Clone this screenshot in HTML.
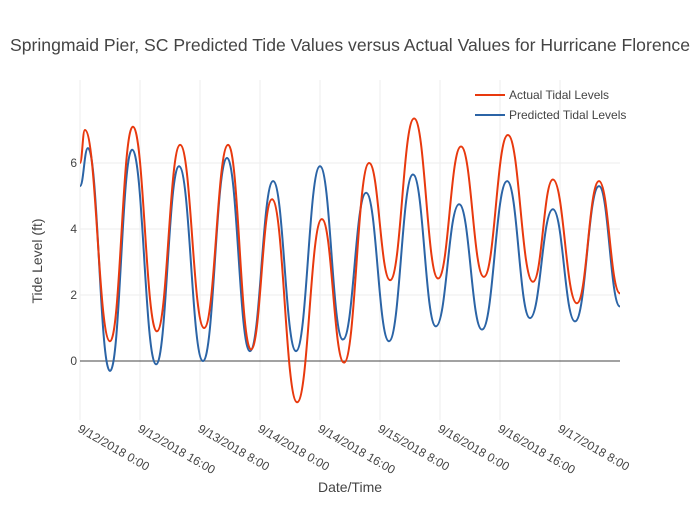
<!DOCTYPE html>
<html><head><meta charset="utf-8"><style>
body{margin:0;background:#fff;}
svg text{font-family:"Liberation Sans","DejaVu Sans",sans-serif;fill:#444;}
</style></head><body>
<svg width="700" height="500" id="chart">
<text x="350" y="51" text-anchor="middle" font-size="17.6">Springmaid Pier, SC Predicted Tide Values versus Actual Values for Hurricane Florence</text>
<g id="grid"></g>
<g id="axes"></g>
<g id="series"></g>
<text x="350" y="492" text-anchor="middle" font-size="14">Date/Time</text>
<text transform="translate(42,261) rotate(-90)" text-anchor="middle" font-size="14">Tide Level (ft)</text>
<g>
<g><line x1="475" y1="95" x2="505" y2="95" stroke="#e8390e" stroke-width="2"/><text x="509" y="99" font-size="12">Actual Tidal Levels</text></g>
<g><line x1="475" y1="115" x2="505" y2="115" stroke="#2b64a6" stroke-width="2"/><text x="509" y="119" font-size="12">Predicted Tidal Levels</text></g>
</g>
</svg>
<script>
const xTickLabels=["9/12/2018 0:00","9/12/2018 16:00","9/13/2018 8:00","9/14/2018 0:00","9/14/2018 16:00","9/15/2018 8:00","9/16/2018 0:00","9/16/2018 16:00","9/17/2018 8:00"];
const xTickHours=[0,16,32,48,64,80,96,112,128];
const yTicks=[0,2,4,6];
const predHours=[0,2.1,8.0,13.9,20.3,26.4,32.8,39.2,45.3,51.5,57.6,64.0,70.1,76.3,82.4,88.8,94.9,101.1,107.2,113.9,120.0,126.1,132.0,138.4,144];
const predValues=[5.3,6.45,-0.3,6.4,-0.1,5.9,0,6.15,0.3,5.45,0.3,5.9,0.65,5.1,0.6,5.65,1.05,4.75,0.95,5.45,1.3,4.6,1.2,5.3,1.65];
const actHours=[0,1.3,8.0,14.1,20.5,26.7,33.1,39.5,45.6,51.2,57.9,64.5,70.4,77.1,82.7,89.1,95.5,101.6,107.7,114.1,120.8,126.1,132.5,138.4,144];
const actValues=[6.0,7.0,0.6,7.1,0.9,6.55,1.0,6.55,0.35,4.9,-1.25,4.3,-0.05,6.0,2.45,7.35,2.5,6.5,2.55,6.85,2.4,5.5,1.75,5.45,2.05];
const NS="http://www.w3.org/2000/svg";
const X0=80,X1=620,Y0=80,Y1=420;
const xs=h=>X0+(h/144)*(X1-X0);
const ys=v=>361-33*v;
const grid=document.getElementById('grid'),axes=document.getElementById('axes'),series=document.getElementById('series');
function mk(t,a,p){const e=document.createElementNS(NS,t);for(const k in a)e.setAttribute(k,a[k]);p.appendChild(e);return e;}
xTickHours.forEach((h,i)=>{
 const l=mk('line',{x1:xs(h),x2:xs(h),y1:Y0,y2:Y1,stroke:'#eee','stroke-width':1},grid);
 
 
 const t=mk('text',{x:xs(h)-3,y:431,'font-size':12,transform:`rotate(30,${xs(h)-3},431)`},axes);
 t.textContent=xTickLabels[i];
 
 
});
yTicks.forEach(v=>{
 const l=mk('line',{x1:X0,x2:X1,y1:ys(v),y2:ys(v),stroke:v===0?'#444':'#eee','stroke-width':1},grid);
 
 
 const t=mk('text',{x:77,y:ys(v)+4,'font-size':12,'text-anchor':'end'},axes);
 t.textContent=v;
 
 
});
function pathFrom(H,V){
 let d=`M${xs(H[0])},${ys(V[0])}`;
 for(let i=0;i<H.length-1;i++){
  const xa=xs(H[i]),xb=xs(H[i+1]),dx=(xb-xa)/2.2;
  d+=` C${xa+dx},${ys(V[i])} ${xb-dx},${ys(V[i+1])} ${xb},${ys(V[i+1])}`;
 }
 return d;
}
const pp=mk('path',{d:pathFrom(predHours,predValues),fill:'none',stroke:'#2b64a6','stroke-width':2},series);


const ap=mk('path',{d:pathFrom(actHours,actValues),fill:'none',stroke:'#e8390e','stroke-width':2},series);


</script>
</body></html>
